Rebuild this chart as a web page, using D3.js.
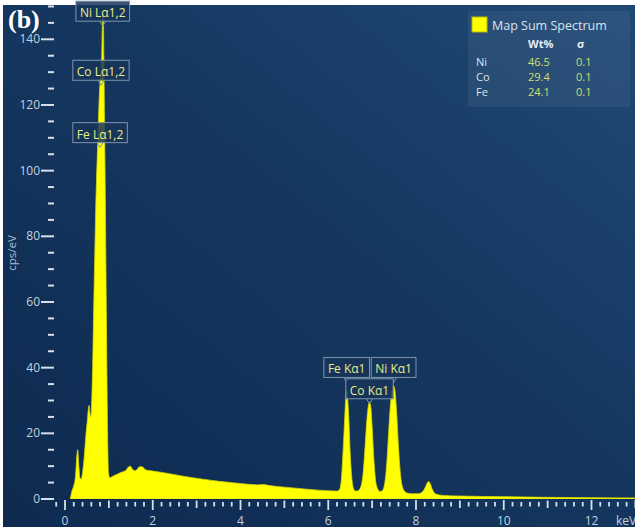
<!DOCTYPE html>
<html>
<head>
<meta charset="utf-8">
<script src="https://cdn.jsdelivr.net/npm/d3@7"></script>
<style>
  body { margin: 0; background: #ffffff; }
  svg { display: block; font-family: "Open Sans", "Noto Sans", sans-serif; }
</style>
</head>
<body>
<svg id="chart" width="635" height="532"></svg>
<script>
// spectrum (keV, cps/eV)
var energy = [0.12,0.16,0.20,0.24,0.27,0.29,0.31,0.34,0.37,0.40,0.44,0.48,0.51,0.53,0.55,0.57,0.59,0.61,0.63,0.65,
  0.68,0.70,0.72,0.74,0.76,0.78,0.80,0.82,0.84,0.855,0.865,0.875,0.885,0.90,0.92,0.94,0.96,0.975,0.99,1.02,
  1.10,1.20,1.30,1.38,1.45,1.49,1.53,1.58,1.63,1.70,1.76,1.82,1.90,2.00,2.2,2.5,2.8,3.1,3.5,4.0,
  4.4,4.52,4.65,5.0,5.5,6.0,6.2,6.26,6.30,6.34,6.37,6.40,6.42,6.44,6.47,6.50,6.54,6.58,6.63,6.69,
  6.75,6.80,6.84,6.88,6.91,6.94,6.97,7.00,7.04,7.08,7.13,7.18,7.23,7.29,7.34,7.38,7.42,7.46,7.49,7.52,
  7.56,7.60,7.65,7.71,7.80,7.90,8.05,8.15,8.22,8.26,8.29,8.32,8.37,8.45,8.6,9.0,10,11,12,13.3];
var counts = [0,2.5,4,7,13,15,11,6.5,6,8,13,20,24,27,28.5,26,25,30,40,55,
  75,88,98,106,114,122,127,130,136,146,148,146,135,115,90,60,32,16,8,6.5,
  7,7.6,8.2,8.6,9.8,10,9.2,8.6,8.8,9.8,9.8,9.0,8.7,8.5,8.1,7.4,6.7,6.1,5.4,4.7,
  4.3,4.4,4.1,3.6,3.0,2.5,2.4,3,6,15,23,31,33.5,31,24,14,6,3,2.4,2.6,
  4,8.5,16,24,28,29.5,28,22,12,5.5,3,2.3,2.5,5,12,21,29,33.5,34.5,33,
  26,16,7,3,1.8,1.6,1.6,2.2,3.8,5,5.3,4.8,3,1.5,1.1,0.9,0.7,0.5,0.4,0.3];

// peak markers: label, energy of tip, height of tip
var peakNames = ["Ni L\u03b11,2", "Co L\u03b11,2", "Fe L\u03b11,2", "Fe K\u03b11", "Ni K\u03b11", "Co K\u03b11"];
var peakKeV   = [0.86, 0.82, 0.80, 6.42, 7.49, 6.94];
var peakCps   = [144, 126, 107, 35.5, 35.5, 29];

// quant table
var elements = ["Ni", "Co", "Fe"];
var wtPct = ["46.5", "29.4", "24.1"];
var sigma = ["0.1", "0.1", "0.1"];

var yTicks = [0, 20, 40, 60, 80, 100, 120, 140];
var xTicks = [0, 2, 4, 6, 8, 10, 12];

var W = 635, H = 532;
var svg = d3.select("#chart");

var x = d3.scaleLinear().domain([0, 12]).range([65, 591.5]);
var y = d3.scaleLinear().domain([0, 140]).range([499, 39.3]);

// background
var defs = svg.append("defs");
var grad = defs.append("linearGradient").attr("id", "bg")
  .attr("x1", "0%").attr("y1", "100%").attr("x2", "100%").attr("y2", "0%");
grad.append("stop").attr("offset", "0%").attr("stop-color", "#0e2a50");
grad.append("stop").attr("offset", "55%").attr("stop-color", "#15375f");
grad.append("stop").attr("offset", "100%").attr("stop-color", "#1f4a76");
svg.append("rect").attr("x", 3).attr("y", 5).attr("width", W - 3).attr("height", 522)
  .attr("fill", "url(#bg)");

defs.append("clipPath").attr("id", "plotclip")
  .append("rect").attr("x", 55).attr("y", 5).attr("width", W - 55).attr("height", 494);

// spectrum
var pts = energy.map(function(e, i) { return [e, counts[i]]; });
var area = d3.area()
  .x(function(d) { return x(d[0]); })
  .y0(y(0))
  .y1(function(d) { return y(d[1]); })
  .curve(d3.curveMonotoneX);
svg.append("path")
  .datum(pts)
  .attr("clip-path", "url(#plotclip)")
  .attr("d", area)
  .attr("fill", "#ffff00")
  .attr("stroke", "#d8d800")
  .attr("stroke-width", 0.8);

// y axis ticks
var yMinor = d3.range(0, 151, 5);
svg.selectAll(".ytick").data(yMinor).enter().append("line")
  .attr("x1", function(d) { return d % 20 == 0 ? 41 : 48; })
  .attr("x2", 54)
  .attr("y1", function(d) { return y(d); })
  .attr("y2", function(d) { return y(d); })
  .attr("stroke", "#d6e0ec")
  .attr("stroke-width", 2);
svg.selectAll(".ylab").data(yTicks).enter().append("text")
  .attr("x", 40).attr("y", function(d) { return y(d) + 4; })
  .attr("text-anchor", "end")
  .attr("font-size", 12)
  .attr("fill", "#c3d0de")
  .text(function(d) { return d; });
svg.append("text")
  .attr("transform", "translate(16,253) rotate(-90)")
  .attr("text-anchor", "middle")
  .attr("font-size", 11.5)
  .attr("fill", "#a9bcd0")
  .text("cps/eV");

// x axis ticks
var xMinor = d3.range(-1, 66).map(function(i) { return i * 0.2; });
svg.selectAll(".xtick").data(xMinor).enter().append("line")
  .attr("x1", function(d) { return x(d); })
  .attr("x2", function(d) { return x(d); })
  .attr("y1", function(d) {
    var k = Math.round(d * 5);
    return k % 10 == 0 ? 500 : (k % 5 == 0 ? 500.5 : 502);
  })
  .attr("y2", function(d) {
    var k = Math.round(d * 5);
    return k % 10 == 0 ? 510 : (k % 5 == 0 ? 508 : 506.5);
  })
  .attr("stroke", "#d6e0ec")
  .attr("stroke-width", 1.8);
svg.selectAll(".xlab").data(xTicks).enter().append("text")
  .attr("x", function(d) { return x(d); }).attr("y", 525)
  .attr("text-anchor", "middle")
  .attr("font-size", 12)
  .attr("fill", "#c3d0de")
  .text(function(d) { return d; });
svg.append("text").attr("x", 616).attr("y", 525)
  .attr("font-size", 12).attr("fill", "#c3d0de").text("keV");

// peak labels
peakNames.forEach(function(name, i) {
  var px = x(peakKeV[i]), py = y(peakCps[i]);
  var g = svg.append("g");
  var t = g.append("text")
    .attr("x", px).attr("y", py - 9)
    .attr("text-anchor", "middle")
    .attr("font-size", 12)
    .attr("fill", "#e6ec8c")
    .text(name);
  var bw = t.node().getComputedTextLength() + 8;
  g.insert("rect", "text")
    .attr("x", px - bw / 2).attr("y", py - 25)
    .attr("width", bw).attr("height", 20)
    .attr("fill", "#17355a").attr("fill-opacity", 0.85)
    .attr("stroke", "#7f95ad").attr("stroke-width", 1);
  g.insert("path", "text")
    .attr("d", "M" + (px - 3) + "," + (py - 5) + "L" + px + "," + py + "L" + (px + 3) + "," + (py - 5))
    .attr("fill", "none").attr("stroke", "#7f95ad").attr("stroke-width", 1);
});

// legend panel
var lg = svg.append("g").attr("transform", "translate(468,11)");
lg.append("rect").attr("width", 162).attr("height", 96)
  .attr("fill", "#ffffff").attr("fill-opacity", 0.06);
lg.append("rect").attr("x", 4).attr("y", 6).attr("width", 15).attr("height", 15)
  .attr("fill", "#ffff00").attr("stroke", "#b8b800");
lg.append("text").attr("x", 24).attr("y", 18.5)
  .attr("font-size", 12.5).attr("fill", "#dbe3ee").text("Map Sum Spectrum");
lg.append("text").attr("x", 60).attr("y", 37)
  .attr("font-size", 11).attr("font-weight", "bold").attr("fill", "#e6ecf4").text("Wt%");
lg.append("text").attr("x", 109).attr("y", 37)
  .attr("font-size", 11).attr("font-weight", "bold").attr("fill", "#e6ecf4").text("\u03c3");
elements.forEach(function(el, i) {
  var ty = 55 + i * 15;
  lg.append("text").attr("x", 8).attr("y", ty)
    .attr("font-size", 11).attr("fill", "#dbe3ee").text(el);
  lg.append("text").attr("x", 60).attr("y", ty)
    .attr("font-size", 11).attr("fill", "#d4de6e").text(wtPct[i]);
  lg.append("text").attr("x", 108).attr("y", ty)
    .attr("font-size", 11).attr("fill", "#d4de6e").text(sigma[i]);
});

// panel letter
svg.append("text").attr("x", 8).attr("y", 28)
  .attr("font-family", "'Liberation Serif', 'DejaVu Serif', serif")
  .attr("font-weight", "bold").attr("font-size", 26)
  .attr("fill", "#ffffff").text("(b)");
</script>
</body>
</html>
